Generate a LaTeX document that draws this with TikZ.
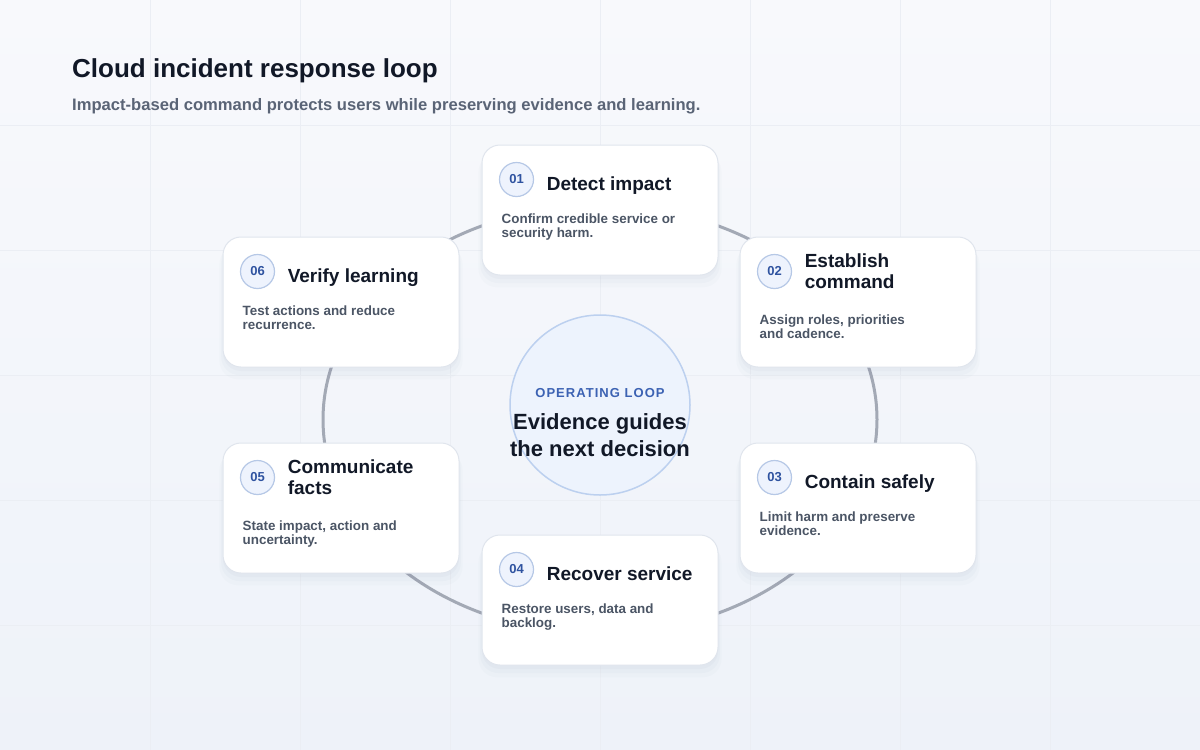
\documentclass[tikz,border=0pt]{standalone}
\usepackage{fontspec}
\setmainfont{Liberation Sans}
\usetikzlibrary{positioning,calc,shadows}

\definecolor{bgtop}{HTML}{F8F9FC}
\definecolor{bgbot}{HTML}{EEF2F9}
\definecolor{gridc}{HTML}{EBEEF4}
\definecolor{loopc}{HTML}{A3A9B5}
\definecolor{cardline}{HTML}{E0E5ED}
\definecolor{shadowc}{HTML}{6B7A99}
\definecolor{badgefill}{HTML}{EEF3FD}
\definecolor{badgeline}{HTML}{B6C8E6}
\definecolor{numblue}{HTML}{2F53A0}
\definecolor{hubfill}{HTML}{EDF3FD}
\definecolor{hubline}{HTML}{BCD0EF}
\definecolor{hubblue}{HTML}{3C62B3}
\definecolor{ink}{HTML}{111827}
\definecolor{slate}{HTML}{4B5565}
\definecolor{subgray}{HTML}{5A6476}

\tikzset{
  gridline/.style={draw=gridc, line width=0.8pt},
  loopline/.style={draw=loopc, line width=3pt},
  card/.style={rounded corners=18pt, fill=white, draw=cardline, line width=1pt,
    minimum width=236pt, minimum height=130pt, inner sep=0pt,
    drop shadow={shadow xshift=0pt, shadow yshift=-10pt, shadow scale=1.03, opacity=0.025, fill=shadowc},
    drop shadow={shadow xshift=0pt, shadow yshift=-7pt, shadow scale=1.015, opacity=0.03, fill=shadowc},
    drop shadow={shadow xshift=0pt, shadow yshift=-4pt, opacity=0.035, fill=shadowc}},
  badge/.style={circle, minimum size=34pt, inner sep=0pt, fill=badgefill,
    draw=badgeline, line width=1.2pt, text=numblue,
    font=\fontsize{13}{13}\selectfont\bfseries},
  cardtitle/.style={inner sep=0pt, align=left, text=ink,
    font=\fontsize{19}{21}\selectfont\bfseries},
  carddesc/.style={inner sep=0pt, align=left, text=slate,
    font=\fontsize{13.4}{14}\selectfont\bfseries},
  hub/.style={circle, minimum size=180pt, inner sep=0pt, fill=hubfill,
    draw=hubline, line width=1.5pt},
  hubtag/.style={inner sep=0pt, text=hubblue,
    font={\fontsize{13}{13}\selectfont\bfseries\addfontfeatures{LetterSpace=8}}},
  hubtext/.style={inner sep=0pt, align=center, text=ink,
    font=\fontsize{22}{27}\selectfont\bfseries},
}

\begin{document}
\begin{tikzpicture}[x=1pt, y=-1pt]
  % Background
  \useasboundingbox (0,0) rectangle (1200,750);
  \fill[top color=bgtop, bottom color=bgbot] (0,0) rectangle (1200,750);
  \foreach \gx in {150,300,...,1050} \draw[gridline] (\gx,0) -- (\gx,750);
  \foreach \gy in {125,250,...,625} \draw[gridline] (0,\gy) -- (1200,\gy);

  % Heading
  \node[anchor=base west, inner sep=0pt, text=ink,
    font=\fontsize{26}{30}\selectfont\bfseries] (heading) at (72,77)
    {Cloud incident response loop};
  \node[anchor=base west, inner sep=0pt, text=subgray,
    font=\fontsize{16.6}{19}\selectfont\bfseries] (subheading) at (72,110)
    {Impact-based command protects users while preserving evidence and learning.};

  % Loop behind the cards
  \coordinate (loopcenter) at (600,419.5);
  \draw[loopline] (loopcenter) ellipse [x radius=277, y radius=214];

  % Hub
  \node[hub] (hub) at (600,405) {};
  \node[hubtag] (hublabel) at (600,393) {OPERATING LOOP};
  \node[hubtext] (hubmsg) at (600,435.5) {Evidence guides\\the next decision};

  % Steps
  \foreach \i/\cx/\cy/\dy/\dd/\ttl/\dsc in {
    01/600/210/-6pt/69/{Detect impact}/{Confirm credible service or\\security harm.},
    02/858/302/0pt/78/{Establish\\command}/{Assign roles, priorities\\and cadence.},
    03/858/508/-6pt/69/{Contain safely}/{Limit harm and preserve\\evidence.},
    04/600/600/-4pt/69/{Recover service}/{Restore users, data and\\backlog.},
    05/341/508/0pt/78/{Communicate\\facts}/{State impact, action and\\uncertainty.},
    06/341/302/-6pt/69/{Verify learning}/{Test actions and reduce\\recurrence.}}
  {
    \node[card] (card\i) at (\cx,\cy) {};
    \node[badge] (badge\i) at ($(card\i.north west)+(35,35)$) {\i};
    \node[cardtitle, anchor=west, yshift=\dy, right=12.5pt of badge\i] (title\i) {\ttl};
    \node[carddesc, anchor=north west] (desc\i) at ($(card\i.north west)+(20,\dd)$) {\dsc};
  }
\end{tikzpicture}
\end{document}
